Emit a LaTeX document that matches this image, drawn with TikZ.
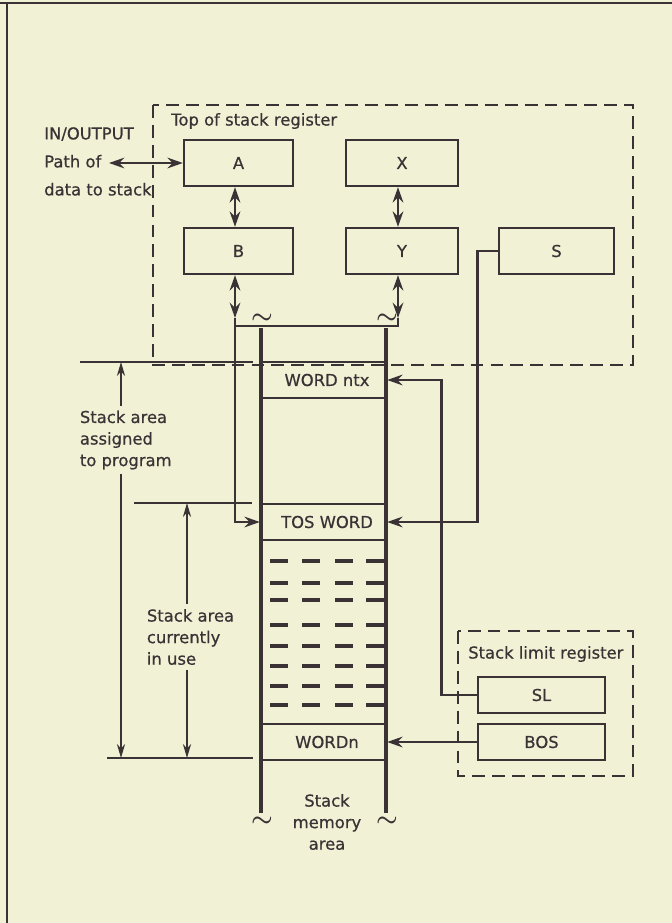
\documentclass[tikz,border=0pt]{standalone}
\usepackage{fontspec}
\setmainfont{DejaVu Sans}[BoldFont={DejaVu Sans}, BoldFeatures={FakeBold=0.6}]
\usetikzlibrary{arrows.meta}
\definecolor{paper}{HTML}{F1F1D6}
\definecolor{ink}{HTML}{3A3234}
\tikzset{
    txt/.style={font=\fontsize{14}{18.4}\selectfont\bfseries, text=ink, inner sep=0pt},
    regbox/.style={txt, draw=ink, line width=2pt, minimum width=3.27cm, minimum height=1.38cm},
    limbox/.style={regbox, minimum width=3.81cm, minimum height=1.08cm},
    wordbox/.style={regbox, minimum width=3.75cm, minimum height=1.08cm},
    conn/.style={draw=ink, line width=2.4pt, >={Stealth[length=13pt,width=9pt]}},
    dim/.style={draw=ink, line width=1.2pt, >={Stealth[length=12pt,width=7pt]}},
    regframe/.style={draw=ink, line width=1.7pt, dash pattern=on 11pt off 6pt},
    stackcol/.style={draw=ink, line width=3pt},
    fillbar/.style={draw=ink, line width=2.8pt},
    wave/.style={txt, font=\fontsize{22}{24}\selectfont\boldmath}
}
\begin{document}
\begin{tikzpicture}[x=0.03cm, y=-0.03cm]
            \fill[paper] (0,0) rectangle (672,923);
            \useasboundingbox (0,0) rectangle (672,923);
            \draw[ink, line width=1.8pt] (0,3) -- (672,3); % Rand oben
            \draw[ink, line width=2.4pt] (7,3) -- (7,923); % Rand links

            % Register oben
            \draw[regframe] (153,105) rectangle (633,365);
            \node[txt, anchor=west] (tosreg) at (171,121) {Top of stack register};
            \node[regbox] (A) at (238.5,163) {A};
            \node[regbox, minimum width=3.36cm] (X) at (402,163) {X};
            \node[regbox] (B) at (238.5,251) {B};
            \node[regbox, minimum width=3.36cm] (Y) at (402,251) {Y};
            \node[regbox, minimum width=3.45cm] (S) at (556.5,251) {S};

            % Ein-/Ausgabe
            \node[txt, anchor=north west, align=left, font=\fontsize{14}{23.9}\selectfont\bfseries] (iotext) at (44,127)
                {IN/OUTPUT\\Path of\\data to stack};
            \coordinate (io) at (109,163);
            \draw[conn, <->] (io) -- (A.west);

            % Bus
            \coordinate (busL) at (235,326);
            \coordinate (busR) at (398,326);
            \coordinate (bTip) at (235,318);
            \coordinate (yTip) at (398,318);
            \draw[conn, <->] (A.south -| busL) -- (B.north -| busL);
            \draw[conn, <->] (X.south -| busR) -- (Y.north -| busR);
            \draw[conn, <->] (B.south -| busL) -- (bTip);
            \draw[conn, <->] (Y.south -| busR) -- (yTip);
            \draw[conn] (yTip) -- (busR) -- (busL) -- (bTip);

            % Stapelspeicher
            \draw[stackcol] (261,328) -- (261,813);
            \draw[stackcol] (386,328) -- (386,813);
            \node[wave] (t1) at (262,319) {$\sim$};
            \node[wave] (t2) at (387,319) {$\sim$};
            \node[wave] (t3) at (262,822) {$\sim$};
            \node[wave] (t4) at (387,822) {$\sim$};
            \node[wordbox] (wntx) at (323.5,380) {\hspace{6pt}WORD ntx};
            \node[wordbox] (tos) at (323.5,522) {\hspace{6pt}TOS WORD};
            \node[wordbox] (wn) at (323.5,742) {\hspace{6pt}WORDn};
            \foreach \y in {561,583,600,625,646,666,686,705}
                \foreach \x in {270,302,335,366}
                    \draw[fillbar] (\x,\y) -- ++(18,0);
            \node[txt, align=center] (memlbl) at (327,822) {Stack\\memory\\area};

            % Stack limit register
            \draw[regframe] (458,631) rectangle (633,776);
            \node[txt, anchor=west] (limreg) at (468,654) {Stack limit register};
            \node[limbox] (SL) at (541.5,695) {SL};
            \node[limbox] (BOS) at (541.5,742) {BOS};

            % Verbindungen zum Stapel
            \draw[conn, ->] (busL) |- (tos.west);
            \draw[conn, ->] (S.west) -- ++(-20,0) |- (tos.east);
            \draw[conn, ->] (SL.west) -- ++(-35,0) |- (wntx.east);
            \draw[conn, ->] (BOS.west) -- (wn.east);

            % Bemassung links
            \draw[dim] (80,362) -- (253,362);
            \draw[dim] (134,503) -- (252,503);
            \draw[dim] (107,758) -- (253,758);
            \coordinate (asgTop) at (121,362);
            \coordinate (asgBot) at (121,758);
            \coordinate (useTop) at (187,503);
            \coordinate (useBot) at (187,758);
            \node[txt, anchor=west, align=left, inner sep=4pt] (assigned) at (75,440)
                {Stack area\\assigned\\to program};
            \node[txt, anchor=west, align=left, inner sep=4pt] (inuse) at (142,637)
                {Stack area\\currently\\in use};
            \draw[dim, ->] (assigned.north -| asgTop) -- (asgTop);
            \draw[dim, ->] (assigned.south -| asgBot) -- (asgBot);
            \draw[dim, ->] (inuse.north -| useTop) -- (useTop);
            \draw[dim, ->] (inuse.south -| useBot) -- (useBot);
\end{tikzpicture}
\end{document}
